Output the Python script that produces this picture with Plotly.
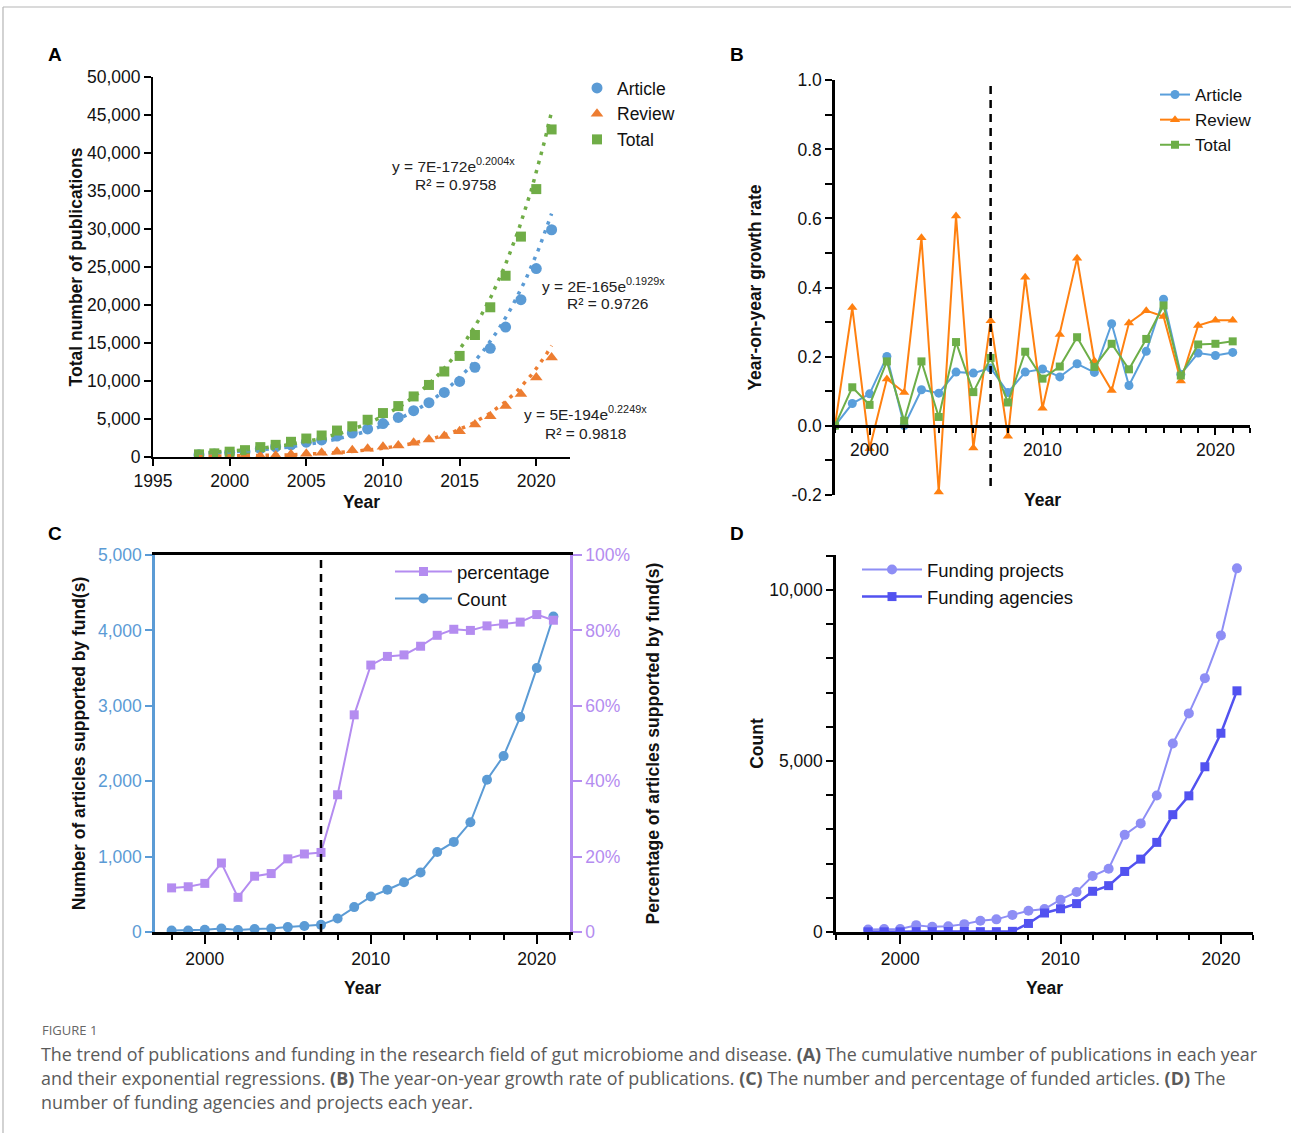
import numpy as np
import plotly.graph_objects as go

W, H = 1291, 1133
FONT = "Liberation Sans, Arial, sans-serif"

def px(x):
    return x / W

def py(y):
    return 1 - y / H

# ---------------- data ----------------
years = list(range(1998, 2022))

# Panel A: cumulative number of publications
article_cum = [300, 380, 600, 700, 1100, 1350, 1600, 1950, 2250, 2750, 3150, 3700,
               4400, 5200, 6100, 7150, 8500, 9950, 11800, 14300, 17100, 20700, 24800, 29900]
review_cum = [30, 100, 100, 200, 130, 200, 350, 430, 560, 700, 900, 1100,
              1350, 1500, 1870, 2300, 2750, 3390, 4260, 5350, 6700, 8300, 10450, 13100]
total_cum = [350, 480, 700, 900, 1300, 1600, 2000, 2430, 2830, 3480, 4040, 4900,
             5780, 6700, 7970, 9480, 11250, 13300, 16050, 19700, 23850, 29000, 35250, 43100]
eq_total = ("y = 7E-172e<sup>0.2004x</sup>", "R² = 0.9758")
eq_article = ("y = 2E-165e<sup>0.1929x</sup>", "R² = 0.9726")
eq_review = ("y = 5E-194e<sup>0.2249x</sup>", "R² = 0.9818")

# Panel B: year-on-year growth rate
growth_article = [0.0, 0.064, 0.092, 0.200, 0.0, 0.104, 0.094, 0.155, 0.152, 0.167, 0.096, 0.155,
                  0.164, 0.141, 0.179, 0.154, 0.295, 0.116, 0.215, 0.366, 0.149, 0.210, 0.203, 0.212]
growth_review = [0.0, 0.342, -0.067, 0.135, 0.096, 0.544, -0.192, 0.607, -0.065, 0.304, -0.031, 0.430,
                 0.050, 0.264, 0.485, 0.187, 0.102, 0.297, 0.333, 0.316, 0.129, 0.290, 0.305, 0.305]
growth_total = [0.0, 0.111, 0.060, 0.186, 0.014, 0.186, 0.025, 0.242, 0.097, 0.196, 0.067, 0.214,
                0.136, 0.171, 0.256, 0.170, 0.237, 0.163, 0.251, 0.348, 0.145, 0.235, 0.237, 0.244]
b_ytick_vals = [-0.2, 0.0, 0.2, 0.4, 0.6, 0.8, 1.0]
b_ytick_text = ["-0.2", "0.0", "0.2", "0.4", "0.6", "0.8", "1.0"]
split_year = 2007

# Panel C: funded articles
funded_count = [20, 20, 30, 45, 25, 40, 45, 65, 80, 95, 180, 330,
                470, 560, 660, 790, 1060, 1195, 1455, 2020, 2335, 2850, 3500, 4185]
funded_pct = [11.7, 12.0, 12.9, 18.3, 9.2, 14.8, 15.5, 19.4, 20.7, 21.1, 36.4, 57.6,
              70.8, 73.1, 73.5, 75.8, 78.7, 80.3, 80.0, 81.2, 81.7, 82.2, 84.2, 82.7]
c_pct_tick_vals = [0, 20, 40, 60, 80, 100]
c_pct_tick_text = ["0", "20%", "40%", "60%", "80%", "100%"]

# Panel D: funding projects / agencies
funding_projects = [70, 90, 90, 200, 150, 170, 230, 330, 370, 500, 620, 670,
                    945, 1170, 1635, 1850, 2840, 3175, 3990, 5510, 6390, 7420, 8670, 10630]
funding_agencies = [5, 5, 5, 10, 10, 15, 15, 10, 10, 20, 250, 555,
                    680, 830, 1190, 1355, 1770, 2130, 2620, 3430, 3980, 4830, 5810, 7050]

# ---------------- colours ----------------
A_BLUE, A_ORANGE, A_GREEN = "#5B9BD5", "#ED7D31", "#70AD47"
B_BLUE, B_ORANGE, B_GREEN = "#5A9FDB", "#FF8010", "#6DAE48"
C_BLUE, C_PURPLE = "#5B9BD5", "#B48CF0"
D_LIGHT, D_DARK = "#8E8EF5", "#5252F0"

fig = go.Figure()

# ---------------- Panel A ----------------
yrs = np.array(years, dtype=float)
xs_fit = np.linspace(yrs[0], yrs[-1], 240)
for vals, col, sym, name, size in [
    (article_cum, A_BLUE, "circle", "Article", 11),
    (review_cum, A_ORANGE, "triangle-up", "Review", 11),
    (total_cum, A_GREEN, "square", "Total", 10),
]:
    fig.add_trace(go.Scatter(x=years, y=vals, mode="markers", name=name,
                             marker=dict(color=col, symbol=sym, size=size),
                             xaxis="x", yaxis="y", legend="legend"))
for vals, col in [(article_cum, A_BLUE), (review_cum, A_ORANGE), (total_cum, A_GREEN)]:
    b, a = np.polyfit(yrs, np.log(np.array(vals, dtype=float)), 1)
    fig.add_trace(go.Scatter(x=xs_fit, y=np.exp(a + b * xs_fit), mode="lines",
                             line=dict(color=col, width=3.5, dash="3.5px,6px"),
                             showlegend=False, hoverinfo="skip", xaxis="x", yaxis="y"))

# ---------------- Panel B ----------------
for vals, col, sym, name, size in [
    (growth_article, B_BLUE, "circle", "Article", 9),
    (growth_review, B_ORANGE, "triangle-up", "Review", 9),
    (growth_total, B_GREEN, "square", "Total", 8),
]:
    fig.add_trace(go.Scatter(x=years, y=vals, mode="lines+markers", name=name,
                             line=dict(color=col, width=2),
                             marker=dict(color=col, symbol=sym, size=size),
                             xaxis="x2", yaxis="y2", legend="legend2"))

# ---------------- Panel C ----------------
fig.add_trace(go.Scatter(x=years, y=funded_pct, mode="lines+markers", name="percentage",
                         line=dict(color=C_PURPLE, width=2),
                         marker=dict(color=C_PURPLE, symbol="square", size=9),
                         xaxis="x3", yaxis="y5", legend="legend3"))
fig.add_trace(go.Scatter(x=years, y=funded_count, mode="lines+markers", name="Count",
                         line=dict(color=C_BLUE, width=2),
                         marker=dict(color=C_BLUE, symbol="circle", size=10),
                         xaxis="x3", yaxis="y3", legend="legend3"))

# ---------------- Panel D ----------------
fig.add_trace(go.Scatter(x=years, y=funding_projects, mode="lines+markers", name="Funding projects",
                         line=dict(color=D_LIGHT, width=2),
                         marker=dict(color=D_LIGHT, symbol="circle", size=10),
                         xaxis="x4", yaxis="y4", legend="legend4"))
fig.add_trace(go.Scatter(x=years, y=funding_agencies, mode="lines+markers", name="Funding agencies",
                         line=dict(color=D_DARK, width=2.5),
                         marker=dict(color=D_DARK, symbol="square", size=9),
                         xaxis="x4", yaxis="y4", legend="legend4"))

# ---------------- axes ----------------
tick_font = dict(family=FONT, size=17.5, color="#111")
title_font = dict(family=FONT, size=17.5, color="#111")

def base_axis(**kw):
    d = dict(showline=True, linecolor="black", linewidth=2, ticks="outside",
             tickcolor="black", tickwidth=2, ticklen=7, showgrid=False,
             zeroline=False, tickfont=tick_font, fixedrange=True, automargin=False)
    d.update(kw)
    return d

layout = dict(
    width=W, height=H, margin=dict(l=0, r=0, t=0, b=0, autoexpand=False),
    paper_bgcolor="white", plot_bgcolor="rgba(0,0,0,0)",
    font=dict(family=FONT, color="#111"),
    hovermode=False,
    # A
    xaxis=base_axis(domain=[px(153), px(570)], range=[1995, 2022.2], anchor="y",
                    tick0=1995, dtick=5,
                    title=dict(text="<b>Year</b>", font=title_font, standoff=6)),
    yaxis=base_axis(domain=[py(457), py(77)], range=[0, 50000], anchor="x",
                    dtick=5000, tickformat=",",
                    title=dict(text="<b>Total number of publications</b>", font=title_font, standoff=0)),
    # B
    xaxis2=base_axis(domain=[px(835), px(1250)], range=[1998, 2022], anchor="free",
                     position=py(426), tick0=2000, dtick=10, linewidth=2.5,
                     minor=dict(dtick=1, tick0=1998, ticks="outside", ticklen=5,
                                tickcolor="black", tickwidth=2),
                     title=dict(text="<b>Year</b>", font=title_font, standoff=34)),
    yaxis2=base_axis(domain=[py(495), py(80)], range=[-0.201, 1.001], anchor="x2",
                     tickvals=b_ytick_vals, ticktext=b_ytick_text, linewidth=2.5,
                     minor=dict(dtick=0.1, tick0=0, ticks="outside", ticklen=7,
                                tickcolor="black", tickwidth=2),
                     title=dict(text="<b>Year-on-year growth rate</b>", font=title_font, standoff=26)),
    # C
    xaxis3=base_axis(domain=[px(155), px(570)], range=[1997, 2022], anchor="y3",
                     tick0=2000, dtick=10, mirror=True, linewidth=2.5, ticklen=9,
                     minor=dict(dtick=2, tick0=1998, ticks="outside", ticklen=5,
                                tickcolor="black", tickwidth=2),
                     title=dict(text="<b>Year</b>", font=title_font, standoff=14)),
    yaxis3=base_axis(domain=[py(932), py(555)], range=[0, 5000], anchor="x3",
                     dtick=1000, tickformat=",", linecolor=C_BLUE, tickcolor=C_BLUE,
                     linewidth=2.5,
                     tickfont=dict(family=FONT, size=17.5, color=C_BLUE),
                     title=dict(text="<b>Number of articles supported by fund(s)</b>",
                                font=title_font, standoff=8)),
    yaxis5=base_axis(range=[0, 100], anchor="x3", overlaying="y3", side="right",
                     tickvals=c_pct_tick_vals, ticktext=c_pct_tick_text,
                     linecolor=C_PURPLE, tickcolor=C_PURPLE, linewidth=2.5, ticklen=9,
                     tickfont=dict(family=FONT, size=17.5, color=C_PURPLE),
                     title=dict(text="<b>Percentage of articles supported by fund(s)</b>",
                                font=title_font, standoff=18)),
    # D
    xaxis4=base_axis(domain=[px(836), px(1253)], range=[1996, 2022], anchor="y4",
                     tick0=2000, dtick=10, linewidth=2.5, ticklen=9,
                     minor=dict(dtick=2, tick0=1998, ticks="outside", ticklen=5,
                                tickcolor="black", tickwidth=2),
                     title=dict(text="<b>Year</b>", font=title_font, standoff=14)),
    yaxis4=base_axis(domain=[py(932), py(555)], range=[0, 11020], anchor="x4",
                     dtick=5000, tickformat=",", linewidth=2.5,
                     minor=dict(dtick=1000, ticks="outside", ticklen=7,
                                tickcolor="black", tickwidth=2),
                     title=dict(text="<b>Count</b>", font=title_font, standoff=2)),
    # legends
    legend=dict(x=px(577), y=py(70), xanchor="left", yanchor="top",
                font=dict(family=FONT, size=17.5, color="#111"),
                bgcolor="rgba(0,0,0,0)", itemwidth=30, tracegroupgap=0),
    legend2=dict(x=px(1155), y=py(77), xanchor="left", yanchor="top",
                 font=dict(family=FONT, size=17, color="#111"),
                 bgcolor="rgba(0,0,0,0)", itemwidth=30),
    legend3=dict(x=px(390), y=py(553), xanchor="left", yanchor="top",
                 font=dict(family=FONT, size=18.5, color="#111"),
                 bgcolor="rgba(0,0,0,0)", itemwidth=57, traceorder="normal"),
    legend4=dict(x=px(857), y=py(551), xanchor="left", yanchor="top",
                 font=dict(family=FONT, size=18.5, color="#111"),
                 bgcolor="rgba(0,0,0,0)", itemwidth=60, traceorder="normal"),
)
fig.update_layout(**layout)

# dashed reference lines at split year
fig.add_shape(type="line", xref="x2", yref="y2", x0=split_year, x1=split_year,
              y0=-0.175, y1=1.0, line=dict(color="black", width=2.5, dash="8px,6px"))
fig.add_shape(type="line", xref="x3", yref="y3", x0=split_year, x1=split_year,
              y0=0, y1=5000, line=dict(color="black", width=2.5, dash="8px,6px"))

# page frame
fig.add_shape(type="line", xref="paper", yref="paper", x0=px(3), x1=1, y0=py(7), y1=py(7),
              line=dict(color="#b5b5b5", width=1.2))
fig.add_shape(type="line", xref="paper", yref="paper", x0=px(3), x1=px(3), y0=py(7), y1=0,
              line=dict(color="#b5b5b5", width=1.2))

ann = []
# panel letters
for letter, x, y in [("A", 55, 55), ("B", 737, 55), ("C", 55, 533), ("D", 737, 533)]:
    ann.append(dict(text=f"<b>{letter}</b>", x=px(x), y=py(y), xref="paper", yref="paper",
                    showarrow=False, xanchor="center", yanchor="middle",
                    font=dict(family=FONT, size=19, color="black")))
# regression equations (panel A)
eq_font = dict(family=FONT, size=15.5, color="#222")
for (eq, r2), (ex, ey), (rx, ry) in [
    (eq_total, (453, 165), (455, 184)),
    (eq_article, (603, 285), (607, 304)),
    (eq_review, (585, 413), (585, 433)),
]:
    ann.append(dict(text=eq, x=px(ex), y=py(ey), xref="paper", yref="paper",
                    showarrow=False, xanchor="center", yanchor="middle", font=eq_font))
    ann.append(dict(text=r2, x=px(rx), y=py(ry), xref="paper", yref="paper",
                    showarrow=False, xanchor="center", yanchor="middle", font=eq_font))

# caption
CAP_FONT = "Open Sans, Noto Sans, sans-serif"
cap_font = dict(family=CAP_FONT, size=17.9, color="#5a5a5a")
ann.append(dict(text="FIGURE 1", x=px(40), y=py(1030), xref="paper", yref="paper",
                showarrow=False, xanchor="left", yanchor="middle",
                font=dict(family=CAP_FONT, size=13, color="#666")))
caption_lines = [
    "The trend of publications and funding in the research field of gut microbiome and disease. "
    "<b>(A)</b> The cumulative number of publications in each year",
    "and their exponential regressions. <b>(B)</b> The year-on-year growth rate of publications. "
    "<b>(C)</b> The number and percentage of funded articles. <b>(D)</b> The",
    "number of funding agencies and projects each year.",
]
for i, line in enumerate(caption_lines):
    ann.append(dict(text=line, x=px(39), y=py(1054 + 24 * i), xref="paper", yref="paper",
                    showarrow=False, xanchor="left", yanchor="middle", font=cap_font))
fig.update_layout(annotations=ann)

fig.write_html("out.html", config={"displayModeBar": False},
               post_script="document.body.style.margin='0';document.body.style.overflow='hidden';")
